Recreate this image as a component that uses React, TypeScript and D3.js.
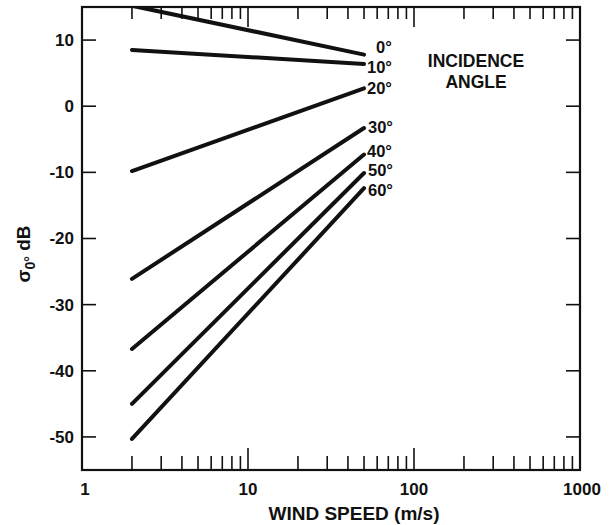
import React from "react";
import * as d3 from "d3";

const angles = ["0°", "10°", "20°", "30°", "40°", "50°", "60°"];
const windStart = 2;
const windEnd = 50;
const sigmaAtStart = [15.2, 8.5, -9.8, -26.1, -36.7, -45.0, -50.3];
const sigmaAtEnd = [7.8, 6.4, 2.7, -3.3, -7.3, -10.1, -12.4];
const yTicks = [10, 0, -10, -20, -30, -40, -50];
const xLabels = [1, 10, 100, 1000];

const App = () => {
  const width = 609;
  const height = 525;
  const left = 82;
  const right = 580;
  const top = 7;
  const bottom = 470;

  const x = d3.scaleLog().domain([1, 1000]).range([left, right]);
  const y = d3.scaleLinear().domain([-55, 15]).range([bottom, top]);

  const line = d3
    .line<[number, number]>()
    .x((d) => x(d[0]))
    .y((d) => y(d[1]));

  const minorTicks = x.ticks().filter((t) => t > 1 && t < 1000);
  const font = "'Liberation Sans', Arial, sans-serif";
  // small nudges so the angle labels don't collide
  const labelDx = [12, 3, 3, 4, 3, 4, 4];
  const labelDy = [-7, 3, 0, -1, -3, -3, 2];

  return (
    <svg width={width} height={height} style={{ position: "absolute", left: 0, top: 0 }}>
      <rect width={width} height={height} fill="#fff" />
      <defs>
        <clipPath id="plot">
          <rect x={left} y={top} width={right - left} height={bottom - top} />
        </clipPath>
      </defs>

      <g clipPath="url(#plot)">
        {angles.map((a, i) => (
          <path
            key={a}
            d={line([
              [windStart, sigmaAtStart[i]],
              [windEnd, sigmaAtEnd[i]],
            ]) as string}
            stroke="#111"
            strokeWidth={4}
            strokeLinecap="round"
            fill="none"
          />
        ))}
      </g>

      {/* ticks */}
      <g stroke="#111" strokeWidth={1.6}>
        {minorTicks.map((t) => {
          const major = Math.abs(Math.log10(t) - Math.round(Math.log10(t))) < 1e-9;
          const lb = major ? 22 : 14;
          const lt = major ? 20 : 12;
          return (
            <g key={t}>
              <line x1={x(t)} x2={x(t)} y1={bottom} y2={bottom - lb} />
              <line x1={x(t)} x2={x(t)} y1={top} y2={top + lt} />
            </g>
          );
        })}
        {yTicks.map((t) => (
          <g key={t}>
            <line x1={left} x2={left + 14} y1={y(t)} y2={y(t)} />
            <line x1={right} x2={right - 14} y1={y(t)} y2={y(t)} />
          </g>
        ))}
      </g>

      <rect
        x={left}
        y={top}
        width={right - left}
        height={bottom - top}
        fill="none"
        stroke="#111"
        strokeWidth={2.2}
      />

      {/* tick labels */}
      <g fontFamily={font} fontWeight="bold" fontSize={17} fill="#111">
        {yTicks.map((t) => (
          <text key={t} x={left - 8} y={y(t)} dy="0.35em" textAnchor="end">
            {t}
          </text>
        ))}
        {xLabels.map((t) => (
          <text key={t} x={x(t) + (t === 1 ? 3 : t === 1000 ? 2 : 0)} y={495} textAnchor="middle">
            {t}
          </text>
        ))}
      </g>
      <g fontFamily={font} fontWeight="bold" fill="#111">
        <text x={354} y={520} textAnchor="middle" fontSize={19}>
          WIND SPEED (m/s)
        </text>
        <text x={476} y={67} textAnchor="middle" fontSize={17.5}>
          INCIDENCE
        </text>
        <text x={476} y={88} textAnchor="middle" fontSize={17.5}>
          ANGLE
        </text>
      </g>

      {/* angle labels */}
      <g fontFamily={font} fontWeight="bold" fontSize={16.5} fill="#111">
        {angles.map((a, i) => (
          <text
            key={a}
            x={x(windEnd) + labelDx[i]}
            y={y(sigmaAtEnd[i]) + labelDy[i]}
            dy="0.35em"
          >
            {a}
          </text>
        ))}
      </g>

      {/* y axis title */}
      <text
        transform="translate(30,254) rotate(-90)"
        fontFamily={font}
        fontWeight="bold"
        fontSize={19}
        fill="#111"
        textAnchor="middle"
      >
        σ
        <tspan fontSize={14} dy={5}>
          0°
        </tspan>
        <tspan dy={-5}> dB</tspan>
      </text>
    </svg>
  );
};

export default App;
